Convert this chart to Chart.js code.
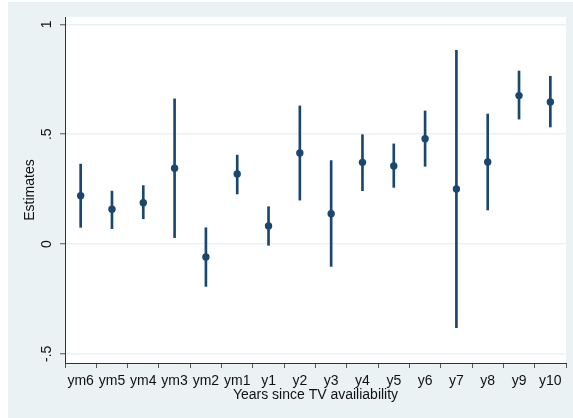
<!DOCTYPE html>
<html>
<head>
<meta charset="utf-8">
<script src="https://cdn.jsdelivr.net/npm/chart.js@4"></script>
<style>
  html, body { margin: 0; padding: 0; background: #ffffff; }
  #wrap { width: 573px; height: 418px; }
</style>
</head>
<body>
<div id="wrap"><canvas id="c" width="573" height="418"></canvas></div>
<script>
// Event-study coefficients with 95% confidence intervals
const periods = ['ym6','ym5','ym4','ym3','ym2','ym1','y1','y2','y3','y4','y5','y6','y7','y8','y9','y10'];
const estimates = [0.220, 0.158, 0.188, 0.345, -0.059, 0.319, 0.082, 0.415, 0.138, 0.372, 0.355, 0.480, 0.251, 0.374, 0.676, 0.647];
const ciLow  = [0.076, 0.070, 0.115, 0.029, -0.193, 0.228, -0.006, 0.200, -0.102, 0.243, 0.258, 0.354, -0.381, 0.155, 0.569, 0.533];
const ciHigh = [0.364, 0.241, 0.266, 0.661, 0.074, 0.405, 0.170, 0.629, 0.380, 0.498, 0.456, 0.606, 0.882, 0.592, 0.788, 0.764];
const yTicks = [-0.5, 0, 0.5, 1];
const yTickLabels = ['-.5', '0', '.5', '1'];

const NAVY = '#1a476f';
const FONT = 'Arial, "Liberation Sans", Helvetica, sans-serif';

const backdrop = {
  id: 'backdrop',
  beforeDraw(chart) {
    const { ctx, width, height, chartArea: a } = chart;
    ctx.save();
    ctx.fillStyle = '#ffffff';
    ctx.fillRect(0, 0, width, height);
    ctx.fillStyle = '#eaf2f3';
    ctx.fillRect(8, 2, width - 8, height - 2);
    ctx.fillStyle = '#ffffff';
    ctx.fillRect(a.left, a.top, a.right - a.left, a.bottom - a.top);
    ctx.restore();
  }
};

new Chart(document.getElementById('c'), {
  data: {
    labels: periods,
    datasets: [
      {
        type: 'line',
        data: estimates,
        showLine: false,
        pointRadius: 3.7,
        pointBackgroundColor: NAVY,
        pointBorderColor: NAVY,
        pointBorderWidth: 0,
        order: 0
      },
      {
        type: 'bar',
        data: periods.map((p, i) => [ciLow[i], ciHigh[i]]),
        backgroundColor: NAVY,
        borderWidth: 0,
        barThickness: 2,
        grouped: false,
        order: 1
      }
    ]
  },
  options: {
    responsive: false,
    animation: false,
    devicePixelRatio: 1,
    layout: { padding: { left: 8, top: 17, right: 7, bottom: 0 } },
    plugins: { legend: { display: false }, tooltip: { enabled: false } },
    scales: {
      x: {
        type: 'category',
        offset: true,
        grid: { display: true, drawOnChartArea: false, drawTicks: true, tickLength: 5, tickColor: '#555555', lineWidth: 1 },
        border: { display: true, color: '#333333', width: 1 },
        ticks: { color: '#111111', font: { family: FONT, size: 14 }, padding: 5, maxRotation: 0, minRotation: 0, autoSkip: false },
        title: { display: true, text: 'Years since TV availiability', color: '#111111', font: { family: FONT, size: 14 }, padding: { top: 0, bottom: 14 } },
        afterFit(s) { s.height = 55; }
      },
      y: {
        type: 'linear',
        min: -0.542,
        max: 1.034,
        afterBuildTicks(s) { s.ticks = yTicks.map(v => ({ value: v })); },
        grid: { display: true, drawOnChartArea: true, color: '#eaf2f3', lineWidth: 1.5, drawTicks: true, tickLength: 5, tickColor: '#555555', tickWidth: 1 },
        border: { display: true, color: '#333333', width: 1 },
        ticks: {
          color: '#111111',
          font: { family: FONT, size: 14 },
          minRotation: 90,
          maxRotation: 90,
          crossAlign: 'center',
          padding: 5,
          callback(v) { const k = yTicks.indexOf(v); return k >= 0 ? yTickLabels[k] : ''; }
        },
        title: { display: true, text: 'Estimates', color: '#111111', font: { family: FONT, size: 14 }, padding: { top: 14, bottom: 0 } },
        afterFit(s) { s.width = 57; }
      }
    }
  },
  plugins: [backdrop]
});
</script>
</body>
</html>
